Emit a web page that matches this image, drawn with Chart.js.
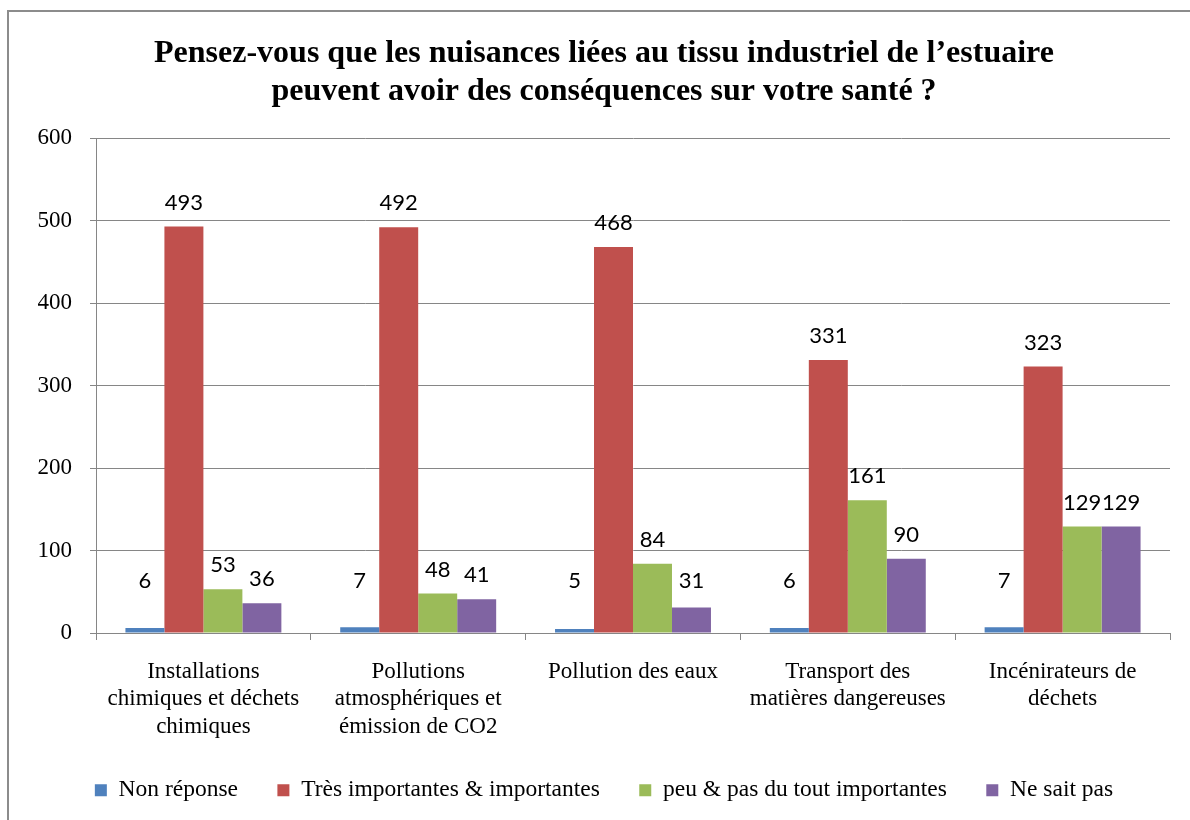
<!DOCTYPE html>
<html lang="fr">
<head>
<meta charset="utf-8">
<title>Nuisances et santé</title>
<script src="https://cdn.jsdelivr.net/npm/chart.js@4"></script>
<style>
  html, body { margin: 0; padding: 0; background: #fff; overflow: hidden; }
  #wrap { position: relative; width: 1190px; height: 820px; }
</style>
</head>
<body>
<div id="wrap"><canvas id="santeChart"></canvas></div>
<script>
// Data
const categories = [
    ['Installations', 'chimiques et déchets', 'chimiques'],
    ['Pollutions', 'atmosphériques et', 'émission de CO2'],
    ['Pollution des eaux'],
    ['Transport des', 'matières dangereuses'],
    ['Incénirateurs de', 'déchets']
];
const seriesNames = ['Non réponse', 'Très importantes & importantes', 'peu & pas du tout importantes', 'Ne sait pas'];
const nonReponse = [6, 7, 5, 6, 7];
const tresImportantes = [493, 492, 468, 331, 323];
const peuImportantes = [53, 48, 84, 161, 129];
const neSaitPas = [36, 41, 31, 90, 129];
const yTicks = [0, 100, 200, 300, 400, 500, 600];

const colors = ['#4F81BD', '#C0504D', '#9BBB59', '#8064A2'];
const serif = '"Liberation Serif", "Times New Roman", serif';
const gridGray = '#868686';

// Outer frame (left and top edges visible in the reference)
const framePlugin = {
    id: 'frame',
    beforeDraw(chart) {
        const c = chart.ctx;
        c.save();
        c.strokeStyle = '#8c8c8c';
        c.lineWidth = 2;
        c.beginPath();
        c.moveTo(8, chart.height);
        c.lineTo(8, 11);
        c.lineTo(chart.width, 11);
        c.stroke();
        c.restore();
    }
};

// Value labels above each bar
const valueLabels = {
    id: 'valueLabels',
    afterDatasetsDraw(chart) {
        const c = chart.ctx;
        const base = chart.scales.y.getPixelForValue(0);
        c.save();
        c.font = '22px Lato, "Open Sans", sans-serif';
        c.fillStyle = '#000';
        c.textAlign = 'center';
        c.textBaseline = 'middle';
        chart.data.datasets.forEach((ds, i) => {
            chart.getDatasetMeta(i).data.forEach((bar, j) => {
                const y = Math.min(bar.y - 24, base - 52);
                c.fillText(String(ds.data[j]), bar.x, y);
            });
        });
        c.restore();
    }
};

const seriesData = [nonReponse, tresImportantes, peuImportantes, neSaitPas];

new Chart(document.getElementById('santeChart'), {
    type: 'bar',
    data: {
        labels: categories,
        datasets: seriesNames.map((name, i) => ({
            label: name,
            data: seriesData[i],
            backgroundColor: colors[i],
            borderWidth: 0,
            categoryPercentage: 0.726,
            barPercentage: 1
        }))
    },
    options: {
        responsive: true,
        maintainAspectRatio: false,
        animation: false,
        layout: { padding: { left: 38, right: 20, top: 0, bottom: 8 } },
        plugins: {
            title: {
                display: true,
                text: ['Pensez-vous que les nuisances liées au tissu industriel de l’estuaire',
                       'peuvent avoir des conséquences sur votre santé ?'],
                color: '#000',
                font: { family: serif, size: 32, weight: 'bold', lineHeight: 1.19 },
                padding: { top: 35, bottom: 27 }
            },
            legend: {
                position: 'bottom',
                labels: {
                    color: '#000',
                    font: { family: serif, size: 23.5 },
                    boxWidth: 12,
                    boxHeight: 12,
                    padding: 10,
                    generateLabels(chart) {
                        const items = Chart.defaults.plugins.legend.labels.generateLabels(chart);
                        items.forEach((it, k) => {
                            it.lineWidth = 0;
                            if (k < items.length - 1) it.text = it.text + '     ';
                        });
                        return items;
                    }
                }
            },
            tooltip: { enabled: false }
        },
        scales: {
            x: {
                grid: {
                    display: true,
                    drawOnChartArea: false,
                    color: gridGray,
                    tickLength: 7,
                    offset: true
                },
                border: { color: gridGray },
                ticks: {
                    color: '#000',
                    font: { family: serif, size: 23, lineHeight: 1.2 },
                    padding: 18,
                    maxRotation: 0,
                    autoSkip: false
                },
                afterFit(scale) { scale.height = 135.5; }
            },
            y: {
                min: 0,
                max: 600,
                grid: { color: gridGray, tickLength: 6 },
                border: { color: gridGray },
                afterBuildTicks(scale) { scale.ticks = yTicks.map(v => ({ value: v })); },
                ticks: {
                    color: '#000',
                    font: { family: serif, size: 23 },
                    padding: 18
                },
                afterFit(scale) { scale.width = 58; }
            }
        }
    },
    plugins: [framePlugin, valueLabels]
});
</script>
</body>
</html>
